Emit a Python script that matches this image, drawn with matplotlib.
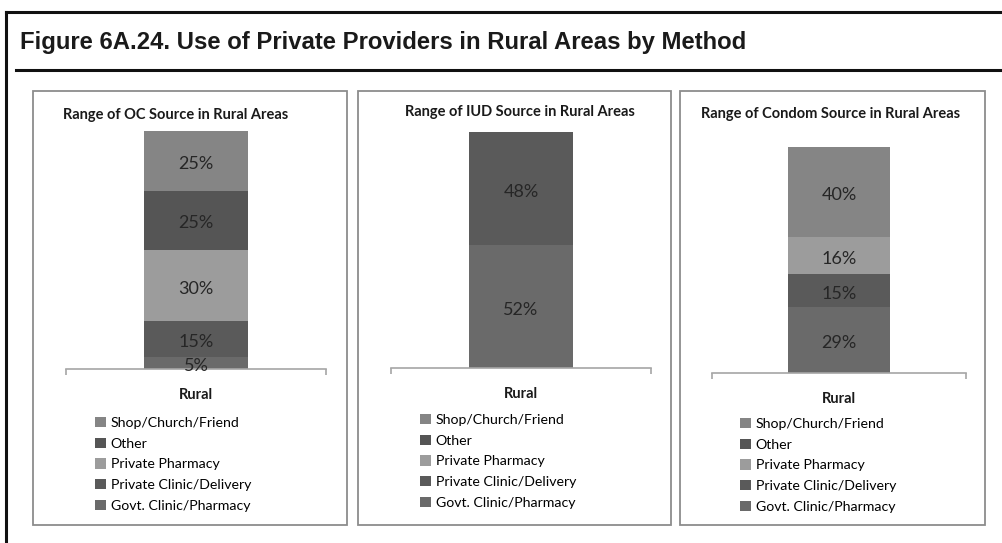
import numpy as np
import matplotlib
matplotlib.use('Agg')
import matplotlib.pyplot as plt
from matplotlib.patches import Rectangle
from matplotlib.lines import Line2D

## 数据：每个面板一列堆叠柱（自下而上）
sources = ['Govt. Clinic/Pharmacy', 'Private Clinic/Delivery', 'Private Pharmacy',
           'Other', 'Shop/Church/Friend']
oc_values = [5, 15, 30, 25, 25]
iud_values = [52, 48, 0, 0, 0]
condom_values = [29, 15, 16, 0, 40]
panel_titles = ['Range of OC Source in Rural Areas',
                'Range of IUD Source in Rural Areas',
                'Range of Condom Source in Rural Areas']
category = ['Rural']
main_title = 'Figure 6A.24. Use of Private Providers in Rural Areas by Method'

colors = ['#6a6a6a', '#5a5a5a', '#9c9c9c', '#555555', '#858585']

W, H = 1002, 543
fig = plt.figure(figsize=(W / 100, H / 100), dpi=100)
body_font = ['Lato', 'DejaVu Sans']


def fx(x):
    return x / W


def fy(y):
    return 1 - y / H


def add_axes_px(left, top, right, bottom):
    return fig.add_axes([fx(left), fy(bottom), (right - left) / W, (bottom - top) / H])


## 外框和标题
fig.add_artist(Line2D([fx(6), fx(6)], [fy(12), fy(560)], color='#111111', lw=2.2))
fig.add_artist(Line2D([fx(6), fx(1010)], [fy(12), fy(12)], color='#111111', lw=2.2))
fig.add_artist(Line2D([fx(16), fx(1010)], [fy(70), fy(70)], color='#111111', lw=2.2))
fig.text(fx(20), fy(43), main_title, fontsize=17.2, fontweight='bold',
         family='Liberation Sans', color='#1a1a1a', va='center', ha='left')

## 每个面板的像素位置
panel_boxes = [(33, 91, 347, 525), (358, 91, 671, 525), (680, 91, 985, 525)]
plot_boxes = [(66, 131, 326, 369), (391, 132, 651, 368), (712, 147, 966, 373)]
title_pos = [(176, 115), (520, 112), (831, 114)]
legend_pos = [(95, 417), (420, 414), (740, 418)]
series = [oc_values, iud_values, condom_values]

for i in range(3):
    l, t, r, b = panel_boxes[i]
    fig.add_artist(Rectangle((fx(l), fy(b)), (r - l) / W, (b - t) / H,
                             transform=fig.transFigure, fill=False,
                             edgecolor='#8c8c8c', lw=1.3))
    fig.text(fx(title_pos[i][0]), fy(title_pos[i][1]), panel_titles[i],
             fontsize=10.5, fontweight='bold', family=body_font,
             color='#1a1a1a', ha='center', va='center')

    ax = add_axes_px(*plot_boxes[i])
    values = series[i]
    bottom = 0
    handles = []
    for j, v in enumerate(values):
        h = ax.bar(0, v, width=0.4, bottom=bottom, color=colors[j],
                   label=sources[j])
        handles.append(h)
        if v > 0:
            ax.annotate('%d%%' % v, (0, bottom + v / 2), xytext=(0, -2.2),
                        textcoords='offset points', ha='center', va='center',
                        fontsize=13, family=body_font, color='#262626')
        bottom += v

    ax.set_xlim(-0.5, 0.5)
    ax.set_ylim(0, 100)
    for s in ['top', 'right', 'left']:
        ax.spines[s].set_visible(False)
    ax.spines['bottom'].set_color('#a6a6a6')
    ax.spines['bottom'].set_linewidth(1.2)
    ax.set_yticks([])
    ax.set_xticks([0])
    ax.set_xticklabels(category, fontsize=10.5, fontweight='bold',
                       family=body_font, color='#1a1a1a')
    ax.tick_params(axis='x', which='major', length=0, pad=14)
    ax.set_xticks([-0.5, 0.5], minor=True)
    ax.tick_params(axis='x', which='minor', length=4, color='#a6a6a6', width=1.2)
    ax.patch.set_visible(False)

    lx, ly = legend_pos[i]
    fig.legend(handles[::-1], sources[::-1], loc='upper left',
               bbox_to_anchor=(fx(lx), fy(ly)), frameon=False,
               prop={'family': body_font, 'size': 10.2},
               handlelength=0.75, handleheight=0.75, handletextpad=0.35,
               labelspacing=0.6, borderpad=0, borderaxespad=0)

fig.savefig('out.png', dpi=100)
